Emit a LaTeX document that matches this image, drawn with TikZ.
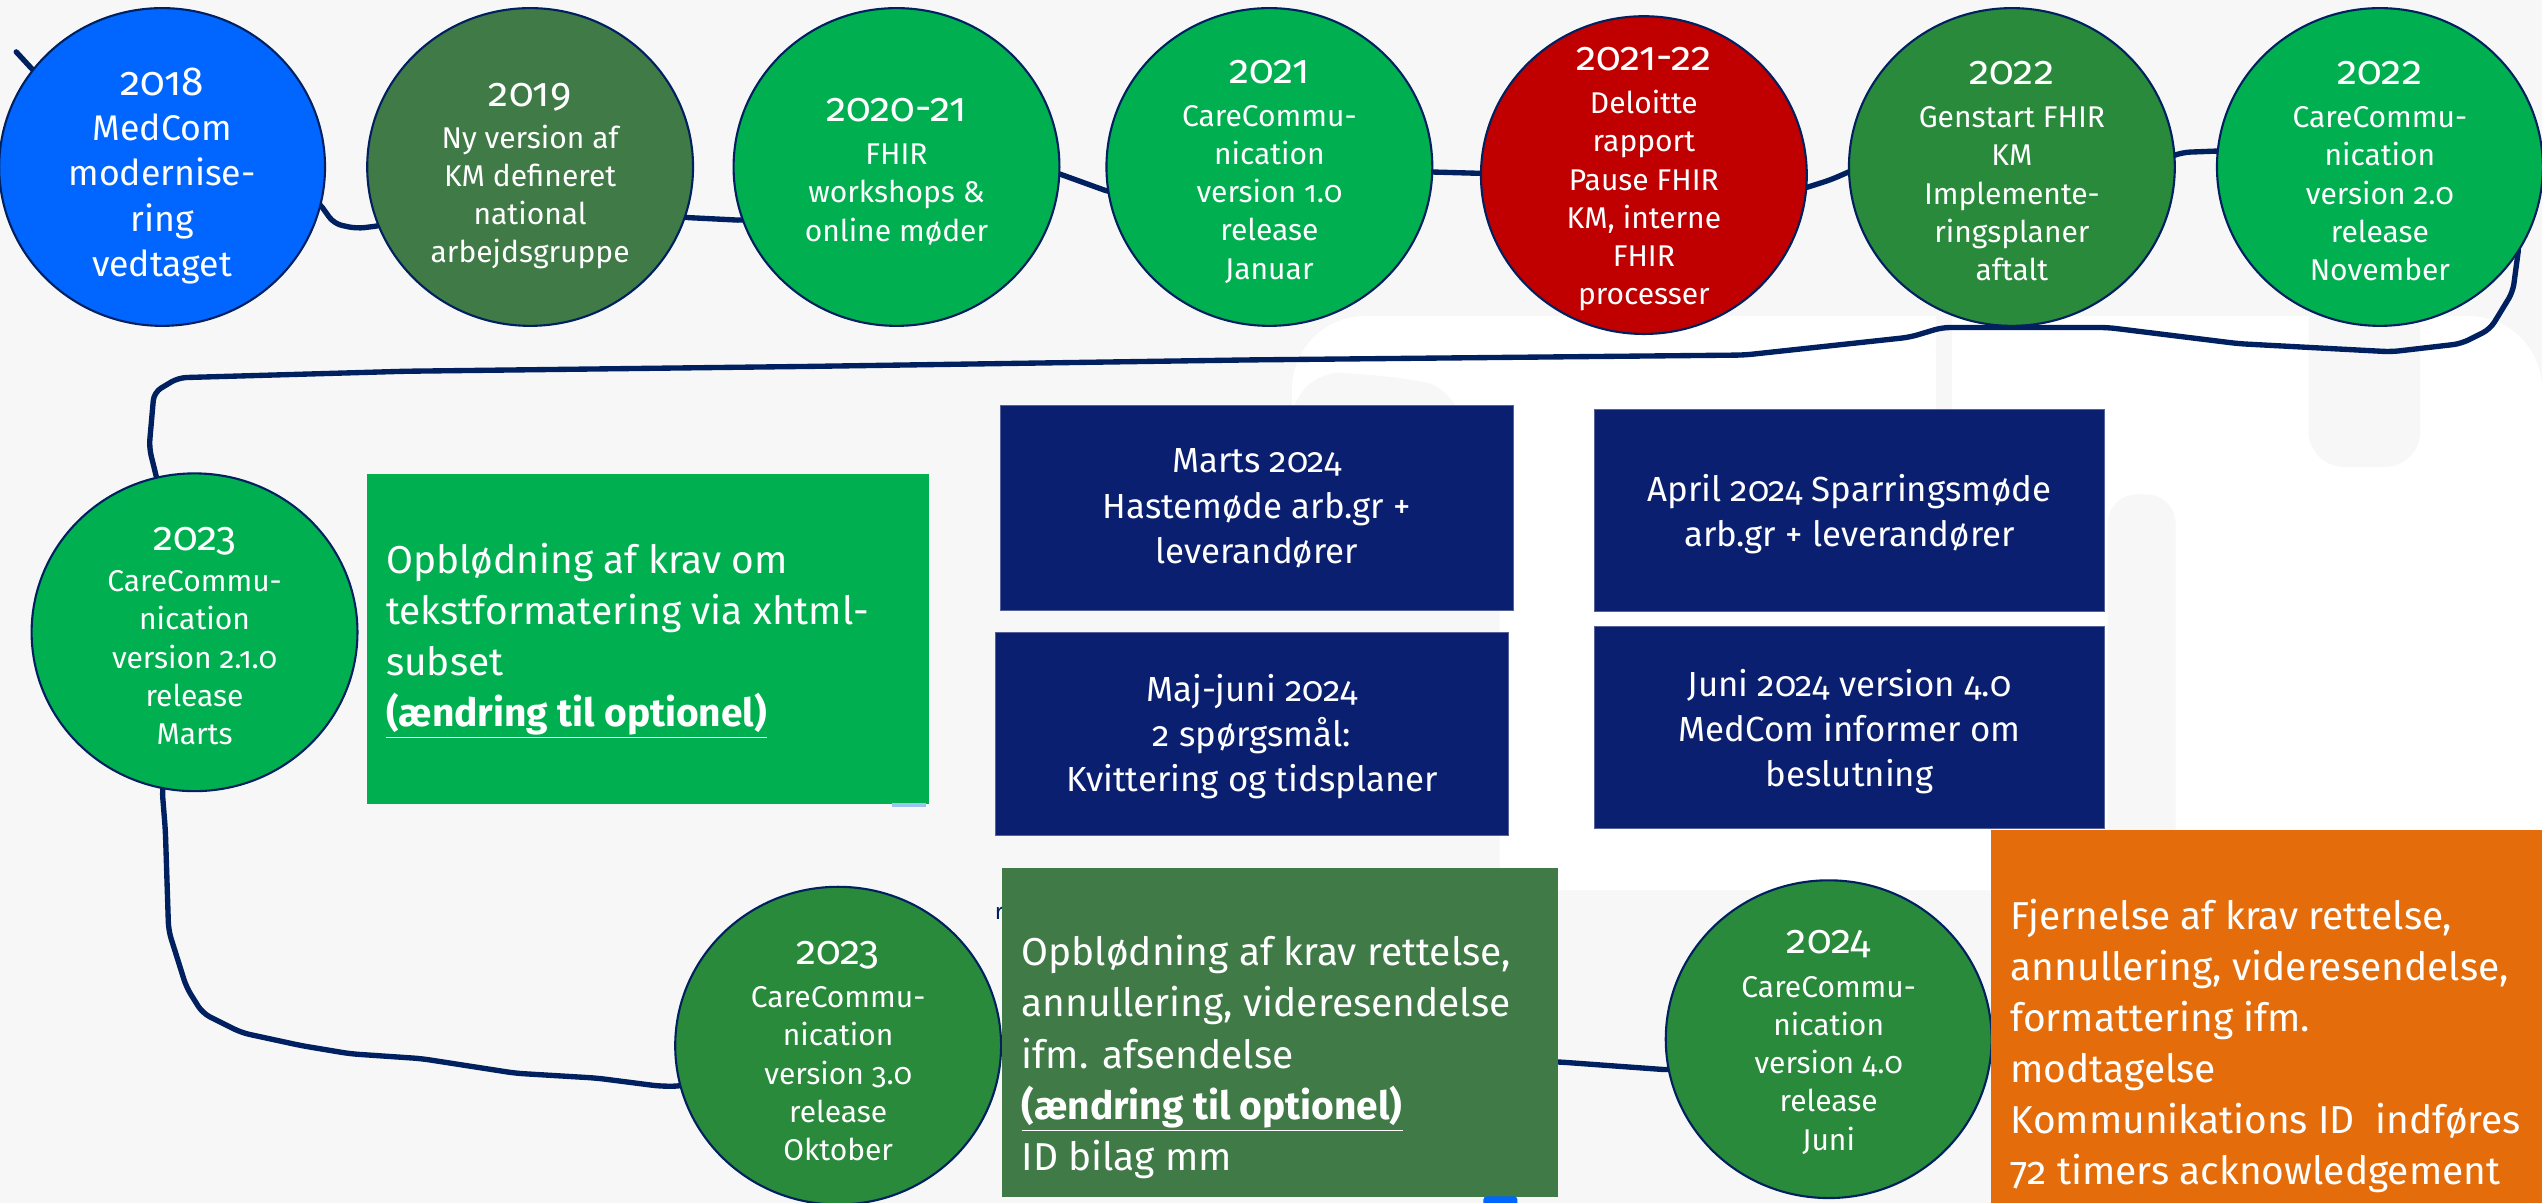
\documentclass[tikz,border=0pt]{standalone}
\usepackage{fontspec}
\setmainfont{Fira Sans}[Numbers=OldStyle]
\usetikzlibrary{shapes.geometric}
\pgfdeclarelayer{back}
\pgfdeclarelayer{lines}
\pgfsetlayers{back,lines,main}
\definecolor{bgc}{HTML}{F7F7F7}
\definecolor{mcblue}{HTML}{0066FF}
\definecolor{dkgreen}{HTML}{3F7A47}
\definecolor{brgreen}{HTML}{00AF50}
\definecolor{mdgreen}{HTML}{288A3A}
\definecolor{mcred}{HTML}{C00000}
\definecolor{navybox}{HTML}{0A1F70}
\definecolor{navyline}{HTML}{002060}
\definecolor{mcorange}{HTML}{E46C0A}
\definecolor{lightmark}{HTML}{9DC3F0}
\newcommand{\yr}[1]{{\fontsize{25}{28}\selectfont #1}}
\begin{document}
\begin{tikzpicture}[x=1pt,y=-1pt,
  circ/.style={ellipse, draw=navyline, line width=1.3pt, minimum width=201pt, minimum height=196pt, inner sep=0pt},
  ctext/.style={text=white, align=center, font=\fontsize{18.5}{23.6}\selectfont, inner sep=0pt},
  navyrect/.style={fill=navybox, draw=navybox!70!white, line width=0.6pt, anchor=north west, inner sep=0pt},
  btext/.style={text=white, align=center, font=\fontsize{21.5}{28}\selectfont, inner sep=0pt},
  bigrect/.style={anchor=north west, inner sep=0pt},
  bigtext/.style={text=white, align=left, anchor=west, font=\fontsize{24}{31.5}\selectfont, inner sep=0pt},
  conn/.style={draw=navyline, line width=3.3pt, rounded corners=5pt, line join=round, line cap=round}]
\useasboundingbox (0,0) rectangle (1568,742);
\begin{pgfonlayer}{back}
  \fill[bgc] (0,0) rectangle (1568,742);
  % faint watermark
  \fill[white, rounded corners=45pt] (797,195) rectangle (1568,549);
  \fill[white, rounded corners=20pt] (1342,300) rectangle (1568,742);
  \fill[bgc, rounded corners=22pt] (1424,170) rectangle (1493,288);
  \fill[bgc, rounded corners=18pt] (1300,305) rectangle (1342,600);
  \fill[bgc] (1194,195) rectangle (1204,290);
  \fill[bgc, rounded corners=30pt] (797,230) -- (850,230) .. controls (900,240) and (915,280) .. (925,330) -- (925,600) -- (797,600) -- cycle;
\end{pgfonlayer}

% circles
\node[circ, fill=mcblue]  (c1) at (100,103) {};
\node[circ, fill=dkgreen] (c2) at (327,103) {};
\node[circ, fill=brgreen] (c3) at (553,103) {};
\node[circ, fill=brgreen] (c4) at (783,103) {};
\node[circ, fill=mcred]   (c5) at (1014,108) {};
\node[circ, fill=mdgreen] (c6) at (1241,103) {};
\node[circ, fill=brgreen] (c7) at (1468,103) {};
\node[circ, fill=brgreen] (c8) at (120,390) {};
\node[circ, fill=mdgreen] (c9) at (517,645) {};
\node[circ, fill=mdgreen] (c10) at (1128,641) {};

\node[ctext, font=\fontsize{22}{28}\selectfont] (t1) at (100,108.5) {\yr{2018}\\MedCom\\modernise-\\ring\\vedtaget};
\node[ctext] (t2) at (327,108.8) {\yr{2019}\\[2pt]Ny version af\\KM defineret\\national\\arbejdsgruppe};
\node[ctext] (t3) at (553,105.8) {\yr{2020-21}\\[3pt]FHIR\\workshops \&\\online møder};
\node[ctext] (t4) at (783,105.8) {\yr{2021}\\[3pt]CareCommu-\\nication\\version 1.0\\release\\Januar};
\node[ctext] (t5) at (1014,110.5) {\yr{2021-22}\\[3pt]Deloitte\\rapport\\Pause FHIR\\KM, interne\\FHIR\\processer};
\node[ctext] (t6) at (1241,105.5) {\yr{2022}\\[3pt]Genstart FHIR\\KM\\Implemente-\\ringsplaner\\aftalt};
\node[ctext] (t7) at (1468,105.5) {\yr{2022}\\[3pt]CareCommu-\\nication\\version 2.0\\release\\November};
\node[ctext] (t8) at (120,392.3) {\yr{2023}\\[2pt]CareCommu-\\nication\\version 2.1.0\\release\\Marts};
\node[ctext] (t9) at (517,648.3) {\yr{2023}\\[3pt]CareCommu-\\nication\\version 3.0\\release\\Oktober};
\node[ctext] (t10) at (1128,643) {\yr{2024}\\[3pt]CareCommu-\\nication\\version 4.0\\release\\Juni};

% navy boxes
\node[navyrect, minimum width=316pt, minimum height=126pt] (b1) at (617,250) {};
\node[navyrect, minimum width=315pt, minimum height=125pt] (b2) at (983,252) {};
\node[navyrect, minimum width=316pt, minimum height=125pt] (b3) at (614,390) {};
\node[navyrect, minimum width=315pt, minimum height=125pt] (b4) at (983,386) {};
\node[btext] (tb1) at (b1.center) [yshift=-0.3pt] {Marts 2024\\Hastemøde arb.gr +\\leverandører};
\node[btext] (tb2) at (b2.center) [yshift=-2.3pt] {April 2024 Sparringsmøde\\arb.gr + leverandører};
\node[btext] (tb3) at (b3.center) [yshift=-1.5pt] {Maj-juni 2024\\2 spørgsmål:\\Kvittering og tidsplaner};
\node[btext] (tb4) at (b4.center) [yshift=-2.5pt] {Juni 2024 version 4.0\\MedCom informer om\\beslutning};

% big boxes
\node[bigrect, fill=brgreen, minimum width=347pt, minimum height=204pt] (g1) at (226,292) {};
\node[bigtext] (tg1) at (238,395) {Opblødning af krav om\\tekstformatering via xhtml-\\subset\\\underline{\textbf{(ændring til optionel)}}};
\node[text=navyline, anchor=base west, inner sep=0pt, font=\fontsize{14}{14}\selectfont] (rr) at (613.5,567) {r};
\node[bigrect, fill=dkgreen, minimum width=343pt, minimum height=203pt] (g2) at (618,535) {};
\node[bigtext] (tg2) at (630,652) {Opblødning af krav rettelse,\\annullering, videresendelse\\ifm. afsendelse\\\underline{\textbf{(ændring til optionel)}}\\ID bilag mm};
\node[bigrect, fill=mcorange, minimum width=340pt, minimum height=230pt] (o1) at (1228,512) {};
\node[bigtext] (to1) at (1240,645.3) {Fjernelse af krav rettelse,\\annullering, videresendelse,\\formattering ifm.\\modtagelse\\Kommunikations ID\ \ indføres\\72 timers acknowledgement};
\fill[mcblue, rounded corners=2pt] (915,738) rectangle (936,745);
\fill[lightmark] (550,495.5) rectangle (571,497.5);

% connector
\coordinate (st) at (10,32);
\begin{pgfonlayer}{lines}
\draw[conn] (st) -- (22,45) -- (c1.center);
\draw[conn] (c1.center) -- (196,124) -- (206,138) -- (220,141) -- (236,139) -- (c2.center);
\draw[conn] (c2.center) -- (420,134) -- (460,136) -- (c3.center);
\draw[conn] (c3.center) -- (650,106) -- (686,119) -- (c4.center);
\draw[conn] (c4.center) -- (880,106) -- (916,107) -- (c5.center);
\draw[conn] (c5.center) -- (1110,117) -- (1129,111) -- (1145,104) -- (c6.center);
\draw[conn] (c6.center) -- (1338,97) -- (1346,94) -- (1372,93) -- (c7.center);
\draw[conn] (c7.center) -- (1554,150) -- (1550,180) -- (1536,203) -- (1518,212) -- (1475,217) -- (1381,212) -- (1300,202) -- (1198,202) -- (1178,208) -- (1076,219) -- (771,222) -- (500,226) -- (250,229) -- (110,233) -- (95,242) -- (92,276) -- (c8.center);
\draw[conn] (c8.center) -- (100,487) -- (102,512) -- (104,574) -- (115,609) -- (125,625) -- (149,637) -- (186,645) -- (216,650) -- (260,653) -- (318,662) -- (368,665) -- (407,670) -- (420,670) -- (c9.center);
\draw[conn] (c9.center) -- (961,655) -- (1030,660) -- (c10.center);
\end{pgfonlayer}
\end{tikzpicture}
\end{document}
